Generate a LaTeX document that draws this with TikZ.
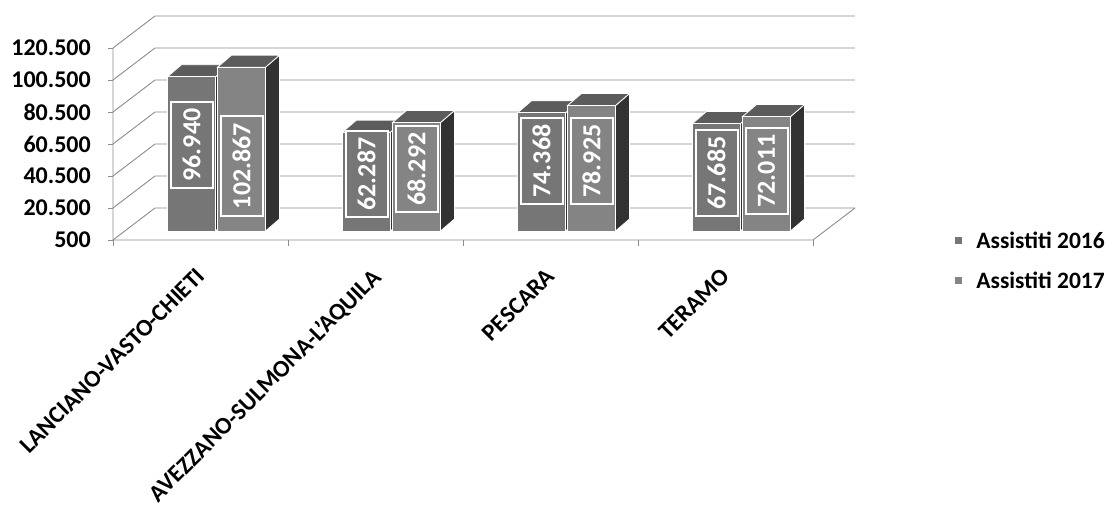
\documentclass[tikz,border=0pt]{standalone}
\usepackage{fontspec}
\setmainfont{Carlito}
\usepackage{tikz}
\usetikzlibrary{positioning}
\definecolor{fronta}{RGB}{118,118,118}
\definecolor{frontb}{RGB}{132,132,132}
\definecolor{topgray}{RGB}{92,92,92}
\definecolor{sidegray}{RGB}{50,50,50}
\definecolor{gridgray}{RGB}{140,140,140}
\tikzstyle{gridline}=[draw=gridgray,line width=0.9pt]
\tikzstyle{axistick}=[draw=gridgray,line width=0.9pt]
\tikzstyle{frontface}=[draw=white,line width=0.8pt]
\tikzstyle{topface}=[fill=topgray,draw=white,line width=0.8pt]
\tikzstyle{sideface}=[fill=sidegray,draw=white,line width=0.8pt]
\tikzstyle{datalabel}=[rotate=90,draw=white,line width=2pt,text=white,font=\fontsize{26}{26}\selectfont\bfseries,minimum height=42pt,inner xsep=7pt]
\tikzstyle{valuelabel}=[anchor=east,inner sep=0pt,font=\fontsize{24}{24}\selectfont\bfseries]
\tikzstyle{catlabel}=[rotate=45,anchor=north east,inner sep=1pt,font=\fontsize{24}{24}\selectfont\bfseries]
\tikzstyle{legendmark}=[draw=white,minimum size=8pt,inner sep=0pt]
\tikzstyle{legendtext}=[inner sep=0pt,font=\fontsize{23.5}{23.5}\selectfont\bfseries]

\begin{document}
\begin{tikzpicture}[x=1pt,y=-1pt]
\useasboundingbox (0,0) rectangle (1106,506);

% value axis, back wall and floor
\foreach \lab [count=\i from 0] in {500,20.500,40.500,60.500,80.500,100.500,120.500}{
  \pgfmathsetmacro\yy{240-32*\i}
  \draw[gridline] (113,\yy) -- (155,\yy-32) -- (855,\yy-32);
  \draw[axistick] (108,\yy) -- (113,\yy);
  \node[valuelabel] (v\i) at (91,\yy) {\lab};
}
\draw[gridline] (113,48) -- (113,240) -- (813,240) -- (855,208);
\foreach \k in {0,...,4}
  \draw[axistick] (113+175*\k,240) -- (113+175*\k,246);

% bars: category / series / value / label centre
\foreach \cat/\ser/\val/\ly in {1/0/96.940/145, 1/1/102.867/166,
                               2/0/62.287/174, 2/1/68.292/169,
                               3/0/74.368/161, 3/1/78.925/161,
                               4/0/67.685/173, 4/1/72.011/171}{
  \pgfmathsetmacro\cx{113+175*(\cat-0.5)}
  \pgfmathsetmacro\xl{\cx-33+50*\ser}
  \pgfmathsetmacro\xr{\xl+48}
  \pgfmathsetmacro\yt{231-(\val-0.5)*1.6}
  \ifnum\ser=0 \def\fc{fronta}\else\def\fc{frontb}\fi
  \draw[sideface] (\xr,231) -- (\xr+14,219) -- (\xr+14,\yt-12) -- (\xr,\yt) -- cycle;
  \draw[topface] (\xl,\yt) -- (\xl+14,\yt-12) -- (\xr+14,\yt-12) -- (\xr,\yt) -- cycle;
  \draw[frontface,fill=\fc] (\xl,231) rectangle (\xr,\yt);
  \node[datalabel,fill=\fc] (lab\cat\ser) at ({(\xl+\xr)/2},\ly) {\val};
}

% categories
\node[catlabel] (c1) at (195,265) {LANCIANO-VASTO-CHIETI};
\node[catlabel] (c2) at (370,265) {AVEZZANO-SULMONA-L'AQUILA};
\node[catlabel] (c3) at (545,265) {PESCARA};
\node[catlabel] (c4) at (720,265) {TERAMO};

% legend
\node[legendmark,fill=fronta] (m16) at (958,240) {};
\node[legendtext,right=14pt of m16] (t16) {Assistiti 2016};
\node[legendmark,fill=frontb] (m17) at (958,280) {};
\node[legendtext,right=14pt of m17] (t17) {Assistiti 2017};
\end{tikzpicture}
\end{document}
